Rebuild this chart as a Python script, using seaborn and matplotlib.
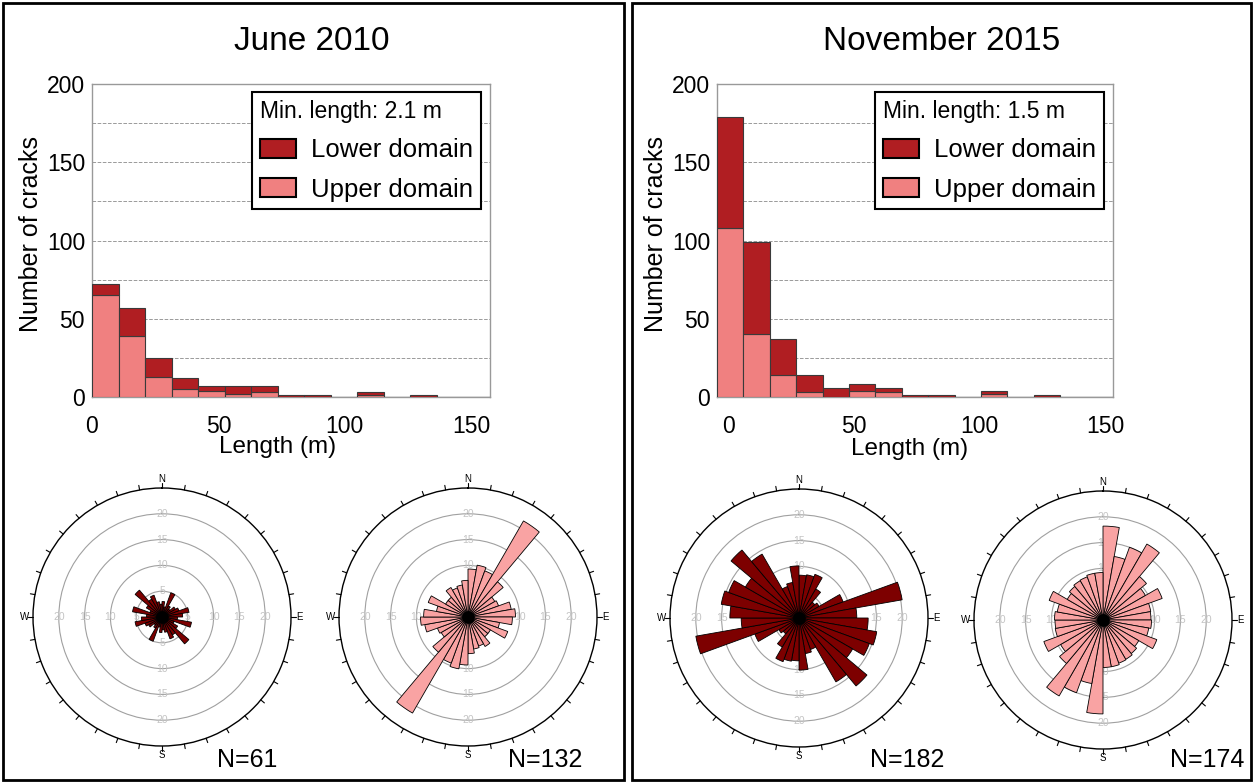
import numpy as np
import pandas as pd
import matplotlib
matplotlib.use("Agg")
import matplotlib.pyplot as plt
import seaborn as sns
from matplotlib.patches import Patch, Rectangle

# ---------------- data ----------------
panel_titles = ["June 2010", "November 2015"]
min_lengths = [2.1, 1.5]
bin_width = 10.5
bin_starts = [0.0, -4.5]

# stacked histogram counts per 10.5 m bin
lower_2010 = [7, 18, 12, 7, 3, 5, 4, 1, 1, 0, 2, 0, 1, 0, 0]
upper_2010 = [65, 39, 13, 5, 4, 2, 3, 0, 0, 0, 1, 0, 0, 0, 0]
lower_2015 = [71, 59, 23, 11, 6, 4, 3, 1, 1, 0, 2, 0, 1, 0, 0]
upper_2015 = [108, 40, 14, 3, 0, 4, 3, 0, 0, 0, 2, 0, 0, 0, 0]

y_ticks = [0, 50, 100, 150, 200]
x_ticks = [0, 50, 100, 150]

# rose diagrams: 10-degree bins from 0 to 180 (axial data, plotted both ways)
rose_2010_lower = [3.0, 2.0, 5.0, 2.5, 2.0, 3.0, 3.5, 5.3, 4.0, 3.0, 5.8, 2.5, 3.5, 6.8, 4.0, 4.5, 3.0, 2.5]
rose_2010_upper = [9.3, 10.2, 9.5, 21.5, 8.9, 6.0, 6.3, 8.5, 9.2, 8.6, 6.2, 8.2, 5.0, 5.0, 6.6, 6.0, 6.3, 7.1]
rose_2015_lower = [8.3, 8.5, 9.0, 6.5, 4.0, 4.5, 9.1, 20.3, 11.2, 13.4, 15.3, 14.5, 12.0, 17.2, 14.3, 6.5, 7.0, 10.1]
rose_2015_upper = [18.2, 12.5, 15.0, 17.0, 11.0, 9.5, 12.2, 9.4, 9.3, 9.4, 9.0, 11.1, 8.0, 8.5, 8.8, 8.9, 9.2, 9.2]
rose_counts = ["N=61", "N=132", "N=182", "N=174"]
ring_values = [5, 10, 15, 20]
compass = {0: "N", 90: "E", 180: "S", 270: "W"}

# ---------------- style ----------------
sns.set_style("white")
plt.rcParams["font.family"] = ["Liberation Sans", "DejaVu Sans"]
for key in ["text.color", "axes.labelcolor", "xtick.color", "ytick.color"]:
    plt.rcParams[key] = "black"

LOWER_C = "#b01e22"
UPPER_C = "#f08080"
ROSE_DARK = "#7d0000"
ROSE_PINK = "#f9a3a3"

W, H = 1254, 782
fig = plt.figure(figsize=(W / 100, H / 100), dpi=100)
fig.patch.set_facecolor("white")

# panel frames
for x0, x1 in [(3, 624), (632, 1251)]:
    fig.patches.append(Rectangle((x0 / W, 2 / H), (x1 - x0) / W, 777 / H,
                                 transform=fig.transFigure, fill=False,
                                 edgecolor="black", linewidth=2))

fig.text(312 / W, 1 - 41 / H, panel_titles[0], ha="center", va="center", fontsize=24)
fig.text(942 / W, 1 - 41 / H, panel_titles[1], ha="center", va="center", fontsize=24)


def draw_hist(rect, lower, upper, start, minlen):
    ax = fig.add_axes(rect)
    n = len(lower)
    edges = start + bin_width * np.arange(n + 1)
    centers = (edges[:-1] + edges[1:]) / 2
    df = pd.DataFrame({
        "length": np.concatenate([centers, centers]),
        "count": np.concatenate([lower, upper]),
        "domain": ["Lower domain"] * n + ["Upper domain"] * n,
    })
    sns.histplot(data=df, x="length", weights="count", hue="domain",
                 hue_order=["Lower domain", "Upper domain"], multiple="stack",
                 bins=edges.tolist(), palette={"Lower domain": LOWER_C, "Upper domain": UPPER_C},
                 alpha=1, edgecolor="#3a3a3a", linewidth=0.8, legend=False, ax=ax, zorder=3)
    ax.set_xlim(edges[0], edges[-1])
    ax.set_ylim(0, 200)
    ax.set_yticks(y_ticks)
    ax.set_yticks([25, 75, 125, 175], minor=True)
    ax.set_yticklabels([str(v) for v in y_ticks], fontsize=16.5)
    ax.set_xticks(x_ticks)
    ax.set_xticklabels([str(v) for v in x_ticks], fontsize=16.5)
    ax.set_xticks(edges[1:-1], minor=True)
    ax.tick_params(axis="y", which="both", length=0, pad=5)
    ax.tick_params(axis="x", which="major", length=0, pad=13)
    ax.tick_params(axis="x", which="minor", length=3, color="#777777", direction="out")
    ax.yaxis.grid(True, which="both", linestyle="--", color="#9a9a9a", linewidth=0.7)
    ax.xaxis.grid(False)
    ax.set_axisbelow(True)
    for s in ax.spines.values():
        s.set_color("#999999")
        s.set_linewidth(1.0)
    ax.set_xlabel("Length (m)", fontsize=17.5)
    ax.set_ylabel("Number of cracks", fontsize=18)
    ax.yaxis.set_label_coords(-0.123, 0.52)
    handles = [Patch(facecolor=LOWER_C, edgecolor="black", linewidth=1.5, label="Lower domain"),
               Patch(facecolor=UPPER_C, edgecolor="black", linewidth=1.5, label="Upper domain")]
    leg = ax.legend(handles=handles, title=f"Min. length: {minlen} m", loc="upper right",
                    bbox_to_anchor=(0.977, 0.974), borderaxespad=0, fontsize=18.5,
                    title_fontsize=16.5, frameon=True, fancybox=False, edgecolor="black",
                    framealpha=1, handlelength=1.4, handleheight=0.75, handletextpad=0.6,
                    labelspacing=0.6, borderpad=0.3, alignment="left")
    leg.get_frame().set_linewidth(1.5)
    return ax


ax1 = draw_hist([92 / W, 1 - 397 / H, 398 / W, 313 / H], lower_2010, upper_2010, bin_starts[0], min_lengths[0])
ax1.xaxis.set_label_coords(0.465, -0.125)
ax2 = draw_hist([717 / W, 1 - 397 / H, 396 / W, 313 / H], lower_2015, upper_2015, bin_starts[1], min_lengths[1])
ax2.xaxis.set_label_coords(0.487, -0.13)


def draw_rose(cx, cy, values, color, label, lx):
    R = 129
    ax = fig.add_axes([(cx - R) / W, (H - cy - R) / H, 2 * R / W, 2 * R / H], projection="polar")
    ax.set_theta_zero_location("N")
    ax.set_theta_direction(-1)
    theta = np.radians(np.arange(0, 360, 10))
    r = np.concatenate([values, values])
    ax.bar(theta, r, width=np.radians(10), align="edge", color=color,
           edgecolor="black", linewidth=0.6, zorder=3)
    ax.plot([0], [0], "o", color="black", ms=8, zorder=4)
    ax.set_ylim(0, 25)
    ax.set_yticks(ring_values)
    ax.set_yticklabels([])
    ax.yaxis.grid(True, color="#a0a0a0", linewidth=0.8)
    ax.xaxis.grid(False)
    ax.set_xticks([])
    ax.spines["polar"].set_linewidth(1.0)
    ax.spines["polar"].set_color("black")
    # outer compass ticks every 10 degrees
    for a in theta:
        ax.plot([a, a], [25, 25.9], color="black", lw=0.8, clip_on=False, zorder=5)
    for deg, name in compass.items():
        ax.text(np.radians(deg), 26.7, name, fontsize=7, ha="center", va="center", clip_on=False)
    for ang in [0, 90, 180, 270]:
        for rv in ring_values:
            ax.text(np.radians(ang), rv, str(rv), color="#c4c4c4", fontsize=7.5,
                    ha="center", va="center", zorder=2)
    fig.text(lx / W, 1 - 760 / H, label, ha="center", va="center", fontsize=18)
    return ax


draw_rose(162, 617, rose_2010_lower, ROSE_DARK, rose_counts[0], 247)
draw_rose(468, 617, rose_2010_upper, ROSE_PINK, rose_counts[1], 545)
draw_rose(799, 618, rose_2015_lower, ROSE_DARK, rose_counts[2], 907)
draw_rose(1103, 620, rose_2015_upper, ROSE_PINK, rose_counts[3], 1207)

fig.savefig("out.png", dpi=100)
